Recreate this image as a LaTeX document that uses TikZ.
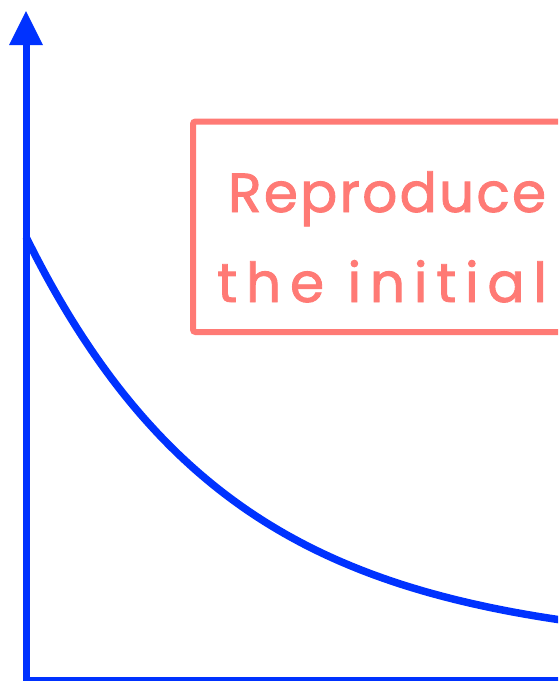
\documentclass[tikz,border=0pt]{standalone}
\usepackage{fontspec}
\setmainfont{Poppins}
\newfontfamily\notefonta[LetterSpace=4,FakeBold=1.6]{Poppins}
\newfontfamily\notefontb[LetterSpace=16,FakeBold=1.6]{Poppins}
\definecolor{axisblue}{RGB}{0,50,255}
\definecolor{notered}{RGB}{255,122,117}
\tikzset{
  axisline/.style={draw=axisblue, line width=7pt},
  curveline/.style={draw=axisblue, line width=7.5pt},
  notebox/.style={draw=notered, line width=6pt, rounded corners=2.5pt},
  notetext/.style={text=notered, inner sep=0pt, anchor=base west}
}
\begin{document}
\begin{tikzpicture}[x=1pt,y=-1pt]
\useasboundingbox (0,0) rectangle (558,681);
\clip (0,0) rectangle (558,681);
% axes
\coordinate (origin) at (26,680);
\coordinate (ytop) at (26,44);
\coordinate (xend) at (600,680);
\draw[axisline] (ytop) -- (origin) -- (xend);
\fill[axisblue] (26,11) -- (43,45) -- (9,45) -- cycle;
% curve
\draw[curveline] plot[domain=0:560, samples=120, smooth] (\x+26, {680-30-413*exp(-0.0049*\x)});
% note box
\coordinate (boxtl) at (193,121.5);
\coordinate (boxbr) at (620,332);
\draw[notebox] (boxtl) rectangle (boxbr);
\node[notetext, font=\notefonta\fontsize{55}{66}\selectfont] (line1) at (228,212) {Reproduce};
\node[notetext, font=\notefontb\fontsize{55}{66}\selectfont] (line2) at (217,302) {the initial};
\end{tikzpicture}
\end{document}
